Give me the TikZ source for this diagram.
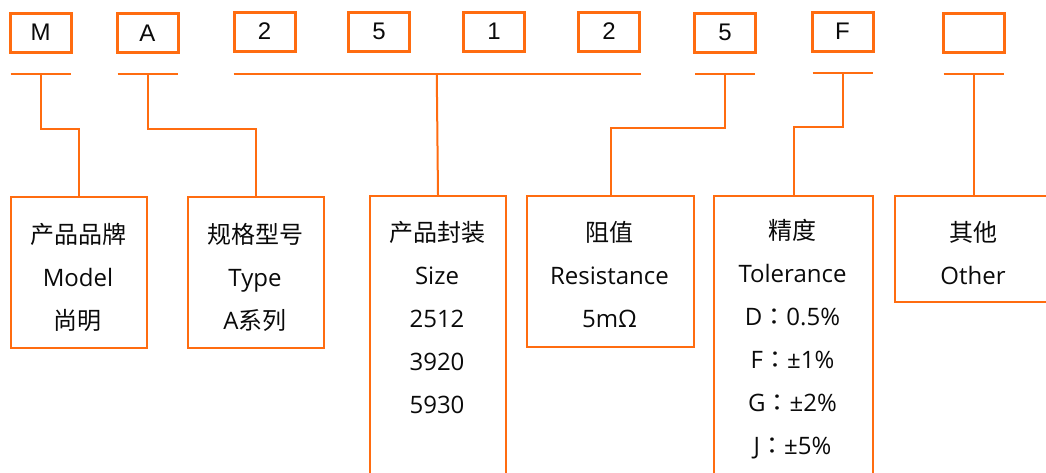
\documentclass[tikz,border=0pt]{standalone}
\usepackage{fontspec}
\setmainfont{Open Sans}
\newfontfamily\cjk{Noto Sans CJK SC}
\newfontfamily\cjkcolon{Noto Sans CJK TC}
\newfontfamily\codefont{Liberation Sans}
\usetikzlibrary{positioning,calc}

\definecolor{lineorange}{RGB}{255,108,16}
\definecolor{textblack}{RGB}{10,10,10}

\tikzset{
  codebox/.style={draw=lineorange, line width=3pt, minimum width=61pt, minimum height=39pt,
    inner sep=0pt, text=textblack, font=\codefont\fontsize{24}{24}\selectfont},
  infobox/.style={draw=lineorange, line width=2pt, inner sep=0pt, anchor=north west},
  infotext/.style={align=center, inner sep=0pt, text=textblack, font=\fontsize{24}{43}\selectfont},
  link/.style={draw=lineorange, line width=2pt},
}

\begin{document}
\begin{tikzpicture}[x=1pt, y=-1pt]
    \clip (0, 0) rectangle (1046, 472);

    % code boxes along the top
    \node[codebox] (codeM) at (40.5, 32.5) {M};
    \node[codebox] (codeA) at (147.5, 33) {A};
    \node[codebox] (sizeA) at (264.5, 31.5) {2};
    \node[codebox] (sizeB) at (379, 31.5) {5};
    \node[codebox] (sizeC) at (494, 31.5) {1};
    \node[codebox] (sizeD) at (609, 31.5) {2};
    \node[codebox] (codeR) at (725, 32.5) {5};
    \node[codebox] (codeT) at (842.5, 31.5) {F};
    \node[codebox] (codeX) at (973.5, 32.5) {};

    % bars under the codes
    \foreach \c in {codeM, codeA, codeR, codeT, codeX}
      \draw[link] ([xshift=2pt, yshift=-20pt]\c.south west) -- ([xshift=-2pt, yshift=-20pt]\c.south east);
    \draw[link] ([xshift=1pt, yshift=-21pt]sizeA.south west) -- ([yshift=-21pt]sizeD.south east);

    \coordinate (barM) at ([yshift=-20pt]codeM.south);
    \coordinate (barA) at ([yshift=-20pt]codeA.south);
    \coordinate (barS) at ([yshift=-21pt]$(sizeA.south west)!0.5!(sizeD.south east)$);
    \coordinate (barR) at ([yshift=-20pt]codeR.south);
    \coordinate (barT) at ([yshift=-20pt]codeT.south);
    \coordinate (barX) at ([yshift=-20pt]codeX.south);

    % description boxes
    \node[infobox, minimum width=136pt, minimum height=151pt] (model) at (10, 196) {};
    \node[infobox, minimum width=136pt, minimum height=151pt] (type) at (187, 196) {};
    \node[infobox, minimum width=136pt, minimum height=300pt] (size) at (369, 195) {};
    \node[infobox, minimum width=167pt, minimum height=151pt] (res) at (526, 195) {};
    \node[infobox, minimum width=159pt, minimum height=300pt] (tol) at (713, 195) {};
    \node[infobox, minimum width=158pt, minimum height=106pt] (other) at (894, 195) {};

    \node[infotext] (modeltxt) at (78, 277.5) {{\cjk 产品品牌}\\Model\\{\cjk 尚明}};
    \node[infotext] (typetxt) at (255, 277.5) {{\cjk 规格型号}\\Type\\A{\cjk 系列}};
    \node[infotext] (sizetxt) at (437, 317.5) {{\cjk 产品封装}\\Size\\2512\\3920\\5930};
    \node[infotext] (restxt) at (609.5, 275) {{\cjk 阻值}\\Resistance\\5mΩ};
    \node[infotext] (toltxt) at (792.5, 339.5) {{\cjk 精度}\\Tolerance\\D{\cjkcolon ：}0.5\%\\F{\cjkcolon ：}±1\%\\G{\cjkcolon ：}±2\%\\J{\cjkcolon ：}±5\%};
    \node[infotext] (othertxt) at (973, 253) {{\cjk 其他}\\Other};

    % connectors
    \draw[link] (barM) -- ++(0, 55) -| (model.north);
    \draw[link] (barA) -- ++(0, 55) -| (type.north);
    \draw[link] (barS) -- (size.north);
    \draw[link] (barR) -- ++(0, 54) -| (res.north);
    \draw[link] (barT) -- ++(0, 54) -| (tol.north);
    \draw[link] (barX) -- (barX |- other.north);
\end{tikzpicture}
\end{document}
